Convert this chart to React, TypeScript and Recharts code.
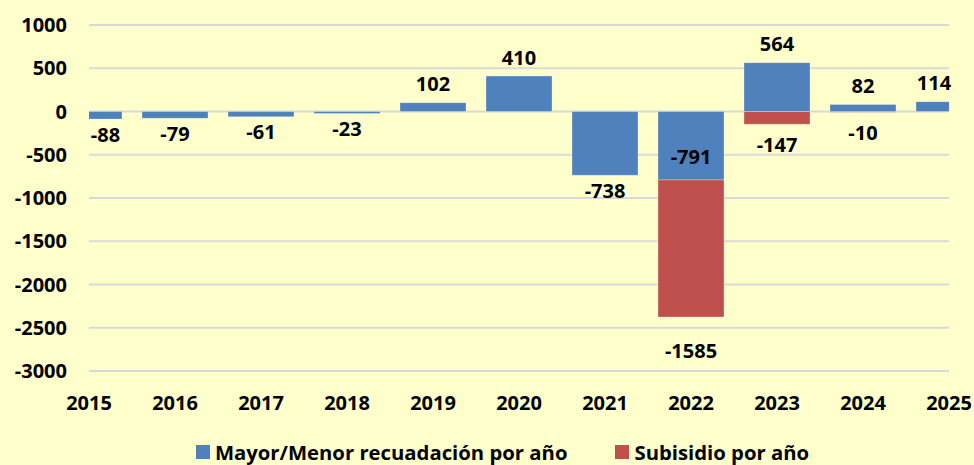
import React from 'react';
import { BarChart, Bar, XAxis, YAxis, CartesianGrid, Legend, LabelList } from 'recharts';

const YEARS = [2015, 2016, 2017, 2018, 2019, 2020, 2021, 2022, 2023, 2024, 2025];
const RECAUDACION = [-88, -79, -61, -23, 102, 410, -738, -791, 564, 82, 114];
const SUBSIDIO: (number | null)[] = [null, null, null, null, null, null, null, -1585, -147, -10, null];
const Y_TICKS = [-3000, -2500, -2000, -1500, -1000, -500, 0, 500, 1000];
const SERIES_NAMES = ['Mayor/Menor recuadación por año', 'Subisidio por año'];

const data = YEARS.map((y, i) => ({ year: y, rec: RECAUDACION[i], sub: SUBSIDIO[i] }));

const W = 974;
const H = 465;
const MARGIN = { top: 25, right: 25, bottom: 0, left: 0 };
const Y_AXIS_W = 89;
const PLOT_LEFT = MARGIN.left + Y_AXIS_W;
const PLOT_RIGHT = W - MARGIN.right + 3;
const FONT = '"Open Sans", "Liberation Sans", sans-serif';
const FS = 20;
const BLUE = '#4F81BD';
const RED = '#C0504D';
const BG = '#FFFFCC';

function visibleCenter(x: number, width: number) {
  const l = Math.max(x, PLOT_LEFT);
  const r = Math.min(x + width, PLOT_RIGHT);
  return (l + r) / 2;
}

const RecLabel = (props: any) => {
  const { x, y, width, height, value, index } = props;
  if (value == null) return null;
  const top = Math.min(y, y + height);
  const bottom = Math.max(y, y + height);
  const cx = visibleCenter(x, width);
  let cy: number;
  const red = SUBSIDIO[index];
  if (value >= 0) {
    cy = top - 19;
  } else if (red != null && red < -500) {
    cy = bottom - 23;
  } else {
    cy = bottom + 15;
  }
  return (
    <text x={cx} y={cy} textAnchor="middle" dominantBaseline="central" fontFamily={FONT} fontWeight={700} fontSize={FS} fill="#000">
      {value}
    </text>
  );
};

const SubLabel = (props: any) => {
  const { x, y, width, height, value } = props;
  if (value == null) return null;
  const bottom = Math.max(y, y + height);
  const cx = visibleCenter(x, width);
  const cy = bottom + (Math.abs(value) > 1000 ? 33 : 20);
  return (
    <text x={cx} y={cy} textAnchor="middle" dominantBaseline="central" fontFamily={FONT} fontWeight={700} fontSize={FS} fill="#000">
      {value}
    </text>
  );
};

const renderLegend = () => (
  <div style={{ height: 34, boxSizing: 'border-box', paddingTop: 8, paddingLeft: 56, display: 'flex', justifyContent: 'center', alignItems: 'center', fontFamily: FONT, fontWeight: 700, fontSize: 20.3, color: '#000' }}>
    {[BLUE, RED].map((c, i) => (
      <div key={i} style={{ display: 'flex', alignItems: 'center', marginRight: i === 0 ? 48 : 0, lineHeight: '22px', height: 22 }}>
        <span style={{ display: 'inline-block', width: 14, height: 14, background: c, marginRight: 5 }} />
        <span style={{ whiteSpace: 'nowrap' }}>{SERIES_NAMES[i]}</span>
      </div>
    ))}
  </div>
);

export default function App() {
  return (
    <div style={{ position: 'absolute', left: 0, top: 0, width: W, height: H, background: BG }}>
      <BarChart width={W} height={H} data={data} margin={MARGIN} stackOffset="sign">
        <CartesianGrid horizontal vertical={false} stroke="#D9D9D9" strokeWidth={2} />
        <XAxis
          dataKey="year"
          type="number"
          domain={[2015, 2025]}
          ticks={YEARS}
          interval={0}
          allowDataOverflow
          axisLine={false}
          tickLine={false}
          tickSize={0}
          tickMargin={25}
          height={60}
          tick={{ fontFamily: FONT, fontWeight: 700, fontSize: FS, fill: '#000' }}
        />
        <YAxis
          type="number"
          domain={[-3000, 1000]}
          ticks={Y_TICKS}
          interval={0}
          width={Y_AXIS_W}
          axisLine={false}
          tickLine={false}
          tickSize={0}
          tickMargin={22}
          tick={{ fontFamily: FONT, fontWeight: 700, fontSize: FS, fill: '#000' }}
        />
        <Legend verticalAlign="bottom" content={renderLegend} />
        <Bar dataKey="rec" name={SERIES_NAMES[0]} stackId="a" fill={BLUE} stroke="rgba(255,255,255,0.3)" strokeWidth={1} barSize={66} isAnimationActive={false}>
          <LabelList dataKey="rec" content={RecLabel} />
        </Bar>
        <Bar dataKey="sub" name={SERIES_NAMES[1]} stackId="a" fill={RED} stroke="rgba(255,255,255,0.3)" strokeWidth={1} barSize={66} isAnimationActive={false}>
          <LabelList dataKey="sub" content={SubLabel} />
        </Bar>
      </BarChart>
    </div>
  );
}
